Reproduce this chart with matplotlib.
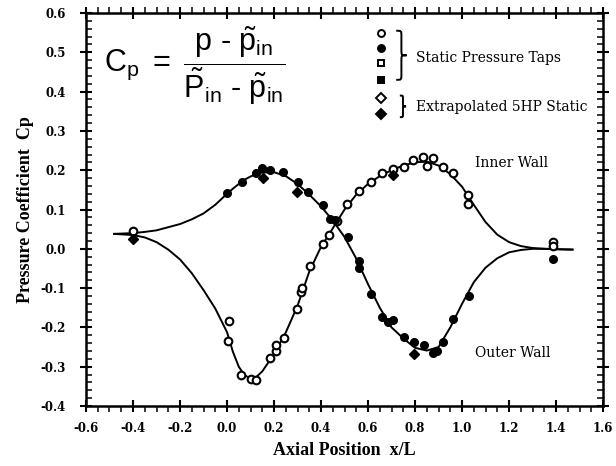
import matplotlib
matplotlib.use("Agg")
import matplotlib.pyplot as plt
import numpy as np
from matplotlib.path import Path
from matplotlib.patches import PathPatch
from matplotlib.ticker import MultipleLocator, FormatStrFormatter

plt.rcParams['font.family'] = ['Liberation Serif', 'DejaVu Serif']
plt.rcParams['mathtext.fontset'] = 'custom'
plt.rcParams['mathtext.rm'] = 'Liberation Sans'
plt.rcParams['mathtext.it'] = 'Liberation Sans'

# measured points, inner wall (open symbols)
x_inner = [-0.40, 0.010, 0.003, 0.060, 0.101, 0.123, 0.182, 0.209, 0.209, 0.243,
           0.298, 0.315, 0.318, 0.355, 0.409, 0.434, 0.467, 0.512, 0.563, 0.611,
           0.658, 0.705, 0.753, 0.793, 0.836, 0.878, 0.853, 0.921, 0.960, 1.027,
           1.027, 1.389, 1.389]
y_inner = [0.045, -0.184, -0.235, -0.320, -0.331, -0.334, -0.278, -0.259, -0.246, -0.226,
           -0.154, -0.110, -0.099, -0.045, 0.012, 0.034, 0.071, 0.115, 0.147, 0.170,
           0.194, 0.202, 0.209, 0.226, 0.234, 0.232, 0.210, 0.209, 0.194, 0.136,
           0.115, 0.017, 0.008]

# measured points, outer wall (filled symbols)
x_outer = [0.001, 0.063, 0.123, 0.148, 0.183, 0.240, 0.301, 0.346, 0.410,
           0.438, 0.460, 0.516, 0.561, 0.561, 0.613, 0.658, 0.687, 0.708, 0.751,
           0.797, 0.840, 0.878, 0.895, 0.921, 0.963, 1.030, 1.389]
y_outer = [0.141, 0.170, 0.192, 0.205, 0.200, 0.196, 0.170, 0.145, 0.111,
           0.077, 0.073, 0.030, -0.031, -0.048, -0.114, -0.174, -0.187, -0.182, -0.225,
           -0.238, -0.246, -0.266, -0.259, -0.238, -0.178, -0.119, -0.025]

# extrapolated 5HP static (filled diamonds)
x_5hp = [-0.40, 0.152, 0.297, 0.705, 0.797]
y_5hp = [0.026, 0.179, 0.145, 0.187, -0.267]

# fitted curves
x_curve = [-0.48, -0.40, -0.35, -0.30, -0.25, -0.20, -0.15, -0.10, -0.05, 0.00,
           0.025, 0.05, 0.075, 0.10, 0.125, 0.15, 0.20, 0.25, 0.30, 0.35, 0.40, 0.45, 0.50,
           0.55, 0.60, 0.65, 0.70, 0.75, 0.80, 0.85, 0.90, 0.95, 1.00,
           1.05, 1.10, 1.15, 1.20, 1.25, 1.30, 1.35, 1.40, 1.47]
inner_curve = [0.038, 0.035, 0.029, 0.017, -0.002, -0.027, -0.062, -0.105, -0.152, -0.212,
               -0.262, -0.300, -0.322, -0.330, -0.326, -0.312, -0.268, -0.213, -0.145, -0.058,
               0.005, 0.052, 0.100,
               0.138, 0.165, 0.185, 0.200, 0.212, 0.220, 0.222, 0.212, 0.190, 0.158,
               0.112, 0.068, 0.036, 0.017, 0.007, 0.002, 0.000, -0.001, -0.002]
outer_curve = [0.038, 0.040, 0.043, 0.047, 0.055, 0.063, 0.075, 0.090, 0.112, 0.140,
               0.153, 0.165, 0.176, 0.184, 0.190, 0.194, 0.195, 0.185, 0.165, 0.138,
               0.108, 0.072, 0.030,
               -0.025, -0.090, -0.150, -0.200, -0.228, -0.252, -0.259, -0.250, -0.200, -0.140,
               -0.085, -0.048, -0.024, -0.009, -0.003, 0.000, 0.000, -0.001, -0.002]

fig = plt.figure(figsize=(6.16, 4.66), dpi=100)
ax = fig.add_axes([0.1396, 0.1288, 0.8394, 0.8432])

ax.plot(x_curve, inner_curve, color='black', lw=1.4)
ax.plot(x_curve, outer_curve, color='black', lw=1.4)
ax.plot(x_inner, y_inner, 'o', ms=5.5, mfc='white', mec='black', mew=1.5)
ax.plot(x_outer, y_outer, 'o', ms=5.5, mfc='black', mec='black')
ax.plot(x_5hp, y_5hp, 'D', ms=5, mfc='black', mec='black')

ax.set_xlim(-0.6, 1.6)
ax.set_ylim(-0.4, 0.6)
ax.xaxis.set_major_locator(MultipleLocator(0.2))
ax.xaxis.set_minor_locator(MultipleLocator(0.05))
ax.yaxis.set_major_locator(MultipleLocator(0.1))
ax.yaxis.set_minor_locator(MultipleLocator(0.02))
ax.xaxis.set_major_formatter(FormatStrFormatter('%.1f'))
ax.yaxis.set_major_formatter(FormatStrFormatter('%.1f'))

for s in ax.spines.values():
    s.set_linewidth(1.8)
ax.tick_params(axis='both', which='major', direction='inout', length=9, width=1.5,
               top=True, right=True, labelsize=8.5, labelfontfamily='DejaVu Serif')
ax.tick_params(axis='both', which='minor', direction='in', length=4.5, width=1.1,
               top=True, right=True)
ax.tick_params(axis='x', which='minor', direction='out')
ax.tick_params(axis='y', which='major', pad=10)
ax.tick_params(axis='x', which='major', pad=7)
for lab in ax.get_xticklabels() + ax.get_yticklabels():
    lab.set_fontweight('bold')

ax.set_xlabel('Axial Position  x/L', fontsize=13, fontweight='bold', labelpad=5)
ax.set_ylabel('Pressure Coefficient  Cp', fontsize=13, fontweight='bold', labelpad=5)

# formula
ax.text(0.035, 0.865,
        r'$C_p\ =\ \dfrac{p\ \text{-}\ \tilde{p}_{in}}{\tilde{P}_{in}\ \text{-}\ \tilde{p}_{in}}$',
        transform=ax.transAxes, fontsize=22, va='center', ha='left')

# legend symbols
leg_y = [0.95, 0.91, 0.872, 0.83, 0.783, 0.742]
leg_style = [('o', 'white'), ('o', 'black'), ('s', 'white'), ('s', 'black'),
             ('D', 'white'), ('D', 'black')]
for yy, (mk, fc) in zip(leg_y, leg_style):
    ax.plot([0.571], [yy], mk, ms=5, mfc=fc, mec='black', mew=1.4,
            transform=ax.transAxes, clip_on=False)


def brace(x0, y0, y1, w, h):
    ym = (y0 + y1) / 2
    xm = x0 + w / 2
    verts = [(x0, y1),
             (xm, y1), (xm, y1), (xm, y1 - h),
             (xm, ym + h),
             (xm, ym), (xm, ym), (x0 + w, ym),
             (xm, ym), (xm, ym), (xm, ym - h),
             (xm, y0 + h),
             (xm, y0), (xm, y0), (x0, y0)]
    codes = [Path.MOVETO,
             Path.CURVE4, Path.CURVE4, Path.CURVE4,
             Path.LINETO,
             Path.CURVE4, Path.CURVE4, Path.CURVE4,
             Path.CURVE4, Path.CURVE4, Path.CURVE4,
             Path.LINETO,
             Path.CURVE4, Path.CURVE4, Path.CURVE4]
    ax.add_patch(PathPatch(Path(verts, codes), fill=False, lw=1.4, ec='black',
                           transform=ax.transAxes, clip_on=False))


brace(0.600, 0.830, 0.955, 0.02, 0.014)
brace(0.607, 0.735, 0.79, 0.012, 0.008)

txt_kw = dict(transform=ax.transAxes, fontsize=10, va='center', ha='left',
              family=['DejaVu Serif'])
ax.text(0.638, 0.885, 'Static Pressure Taps', **txt_kw)
ax.text(0.638, 0.762, 'Extrapolated 5HP Static', **txt_kw)
ax.text(0.752, 0.618, 'Inner Wall', **txt_kw)
ax.text(0.752, 0.135, 'Outer Wall', **txt_kw)

fig.savefig('out.png', dpi=100)
